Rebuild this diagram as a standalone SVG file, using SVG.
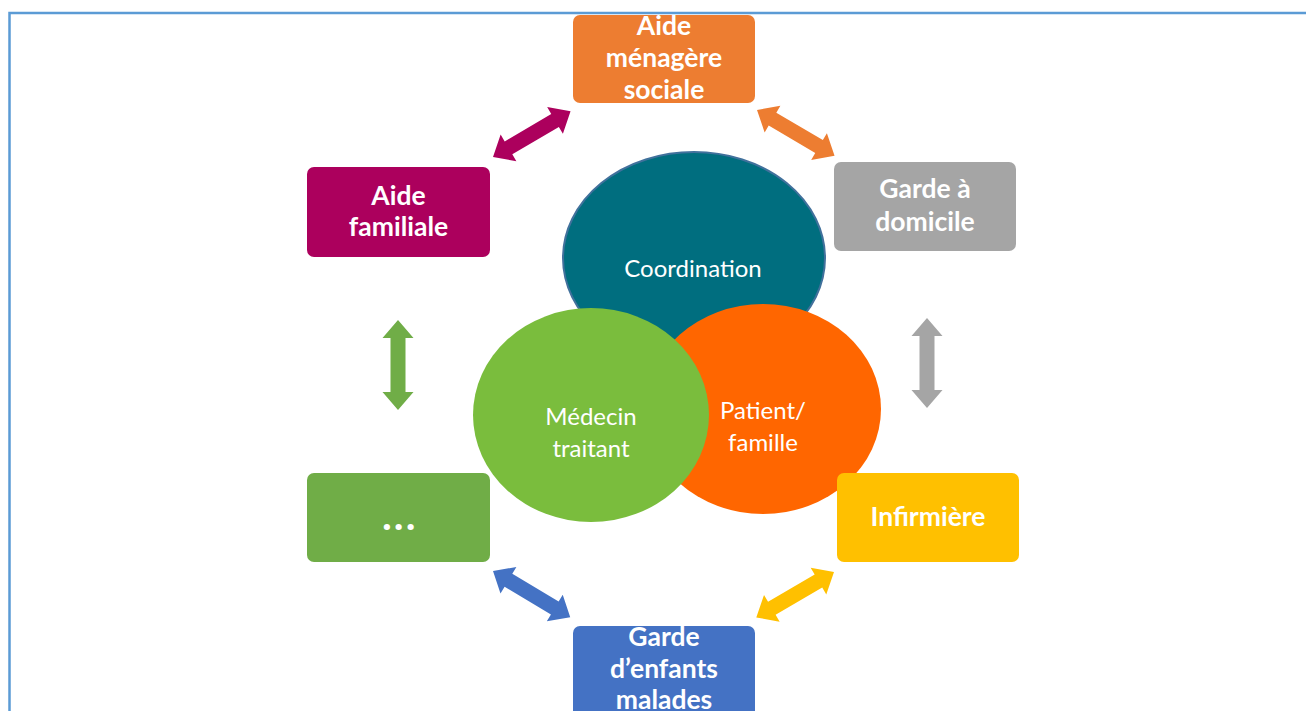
<svg xmlns="http://www.w3.org/2000/svg" width="1306" height="711" viewBox="0 0 1306 711">
  <style>
    .box { rx: 7px; ry: 7px; }
    .lbl { font-family: Lato, "Open Sans", "Liberation Sans", sans-serif; font-weight: 700; font-size: 26.5px; fill: #ffffff; text-anchor: middle; }
    .core { font-family: Lato, "Open Sans", "Liberation Sans", sans-serif; font-size: 24px; fill: #ffffff; text-anchor: middle; }
    .dots { font-family: "Open Sans", "Liberation Sans", sans-serif; font-weight: 700; font-size: 36px; fill: #ffffff; text-anchor: middle; letter-spacing: 1.5px; }
  </style>
  <defs>
    <!-- double-headed block arrow, 90 px long, along +x from the origin -->
    <polygon id="dbl" points="0,0 18,-15.5 18,-7.5 72,-7.5 72,-15.5 90,0 72,15.5 72,7.5 18,7.5 18,15.5"/>
  </defs>

  <rect width="1306" height="711" fill="#ffffff"/>
  <!-- page frame -->
  <rect x="9.5" y="13" width="1400" height="800" fill="none" stroke="#5B9BD5" stroke-width="2.5"/>

  <!-- central overlapping ellipses -->
  <g id="coordination">
    <ellipse cx="694" cy="258" rx="131" ry="106" fill="#006E7F" stroke="#41719C" stroke-width="2"/>
    <text class="core" x="693" y="277">Coordination</text>
  </g>
  <g id="patient">
    <ellipse cx="763" cy="409" rx="118" ry="105" fill="#FF6600"/>
    <text class="core" x="763" y="419">Patient/</text>
    <text class="core" x="763" y="451">famille</text>
  </g>
  <g id="medecin">
    <ellipse cx="591" cy="415" rx="118" ry="107" fill="#7ABD3D"/>
    <text class="core" x="591" y="425">Médecin</text>
    <text class="core" x="591" y="457">traitant</text>
  </g>

  <!-- surrounding services -->
  <g id="aide-menagere">
    <rect class="box" x="573" y="15" width="182" height="88" fill="#ED7D31"/>
    <text class="lbl" x="664" y="35">Aide</text>
    <text class="lbl" x="664" y="67">ménagère</text>
    <text class="lbl" x="664" y="99">sociale</text>
  </g>
  <g id="garde-domicile">
    <rect class="box" x="834" y="162" width="182" height="89" fill="#A5A5A5"/>
    <text class="lbl" x="925" y="198">Garde à</text>
    <text class="lbl" x="925" y="231">domicile</text>
  </g>
  <g id="infirmiere">
    <rect class="box" x="837" y="473" width="182" height="89" fill="#FFC000"/>
    <text class="lbl" x="928" y="526">Infirmière</text>
  </g>
  <g id="garde-enfants">
    <rect class="box" x="573" y="626" width="182" height="100" fill="#4472C4"/>
    <text class="lbl" x="664" y="646">Garde</text>
    <text class="lbl" x="664" y="678">d’enfants</text>
    <text class="lbl" x="664" y="709">malades</text>
  </g>
  <g id="autres">
    <rect class="box" x="307" y="473" width="183" height="89" fill="#70AD47"/>
    <text class="dots" x="399.5" y="530">...</text>
  </g>
  <g id="aide-familiale">
    <rect class="box" x="307" y="167" width="183" height="90" fill="#AC005D"/>
    <text class="lbl" x="398.5" y="205">Aide</text>
    <text class="lbl" x="398.5" y="236">familiale</text>
  </g>

  <!-- connectors -->
  <g id="connectors">
    <use href="#dbl" fill="#AC005D" transform="translate(493,157) rotate(-30.5)"/>
    <use href="#dbl" fill="#ED7D31" transform="translate(757,110) rotate(30.5)"/>
    <use href="#dbl" fill="#A5A5A5" transform="translate(927,318) rotate(90)"/>
    <use href="#dbl" fill="#FFC000" transform="translate(834,572) rotate(149.7)"/>
    <use href="#dbl" fill="#4472C4" transform="translate(493,571) rotate(30.9)"/>
    <use href="#dbl" fill="#70AD47" transform="translate(398,320) rotate(90)"/>
  </g>
</svg>
